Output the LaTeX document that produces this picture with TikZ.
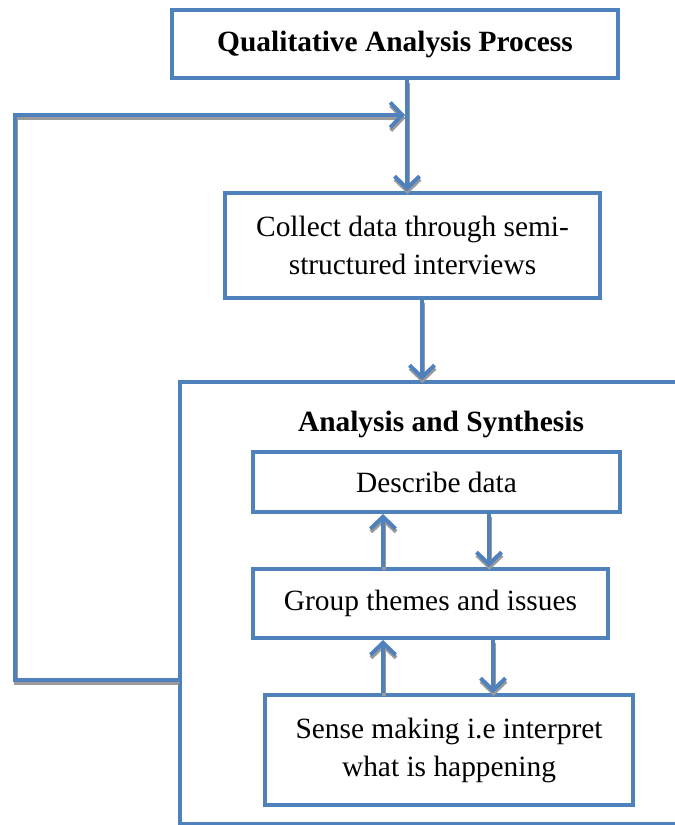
\documentclass[tikz,border=0pt]{standalone}
\usepackage{fontspec}
\setmainfont{Liberation Serif}
\usetikzlibrary{arrows.meta}
\definecolor{boxblue}{HTML}{4F81BD}
\definecolor{shadowgray}{HTML}{9A9A9A}
\tikzset{
  box/.style={draw=boxblue, line width=4pt, fill=white, inner sep=0pt, align=center,
    font=\fontsize{29.4}{38}\selectfont},
  flow/.style={draw=boxblue, line width=4pt,
    -{Straight Barb[length=12pt,width=25pt]}},
  flowshadow/.style={draw=shadowgray, line width=4pt,
    -{Straight Barb[length=12pt,width=25pt]}},
}
\begin{document}
\begin{tikzpicture}[x=1pt,y=-1pt]
\useasboundingbox (0,0) rectangle (675,825);
\clip (0,0) rectangle (675,825);
% coordinates for connector routing
\coordinate (cA) at (407,0);
\coordinate (cB) at (422,0);
\coordinate (cU) at (383,0);
\coordinate (cD1) at (489,0);
\coordinate (cD2) at (493,0);
\coordinate (fbA) at (15,680);
\coordinate (fbB) at (15,115);
\coordinate (fbC) at (405,115);

\node[box, minimum width=540pt, minimum height=442pt] (big) at (450,603) {};
\node[font=\fontsize{29.4}{38}\selectfont\bfseries] (astitle) at (441,424) {Analysis and Synthesis};

\node[box, minimum width=446pt, minimum height=68pt, font=\fontsize{29.4}{38}\selectfont\bfseries] (top) at (395,44) {Qualitative Analysis Process};
\node[box, minimum width=375pt, minimum height=105pt] (collect) at (412.5,245.5) {Collect data through semi-\\structured interviews};
\node[box, minimum width=367pt, minimum height=60pt] (describe) at (436.5,482) {Describe data};
\node[box, minimum width=355pt, minimum height=69pt] (group) at (430.5,603.5) {Group themes and issues};
\node[box, minimum width=368pt, minimum height=110pt] (sense) at (449,750) {Sense making i.e interpret\\what is happening};

% connector shadows
\begin{scope}[transform canvas={xshift=0.5pt,yshift=-3pt}]
\draw[flowshadow] (cA |- top.south) -- (cA |- collect.north);
\draw[flowshadow] (big.west |- fbA) -- (fbA) -- (fbB) -- (fbC);
\draw[flowshadow] (cB |- collect.south) -- (cB |- big.north);
\draw[flowshadow] (cU |- group.north) -- (cU |- describe.south);
\draw[flowshadow] (cD1 |- describe.south) -- (cD1 |- group.north);
\draw[flowshadow] (cU |- sense.north) -- (cU |- group.south);
\draw[flowshadow] (cD2 |- group.south) -- (cD2 |- sense.north);
\end{scope}
% connectors
\draw[flow] (cA |- top.south) -- (cA |- collect.north);
\draw[flow] (big.west |- fbA) -- (fbA) -- (fbB) -- (fbC);
\draw[flow] (cB |- collect.south) -- (cB |- big.north);
\draw[flow] (cU |- group.north) -- (cU |- describe.south);
\draw[flow] (cD1 |- describe.south) -- (cD1 |- group.north);
\draw[flow] (cU |- sense.north) -- (cU |- group.south);
\draw[flow] (cD2 |- group.south) -- (cD2 |- sense.north);
\end{tikzpicture}
\end{document}
